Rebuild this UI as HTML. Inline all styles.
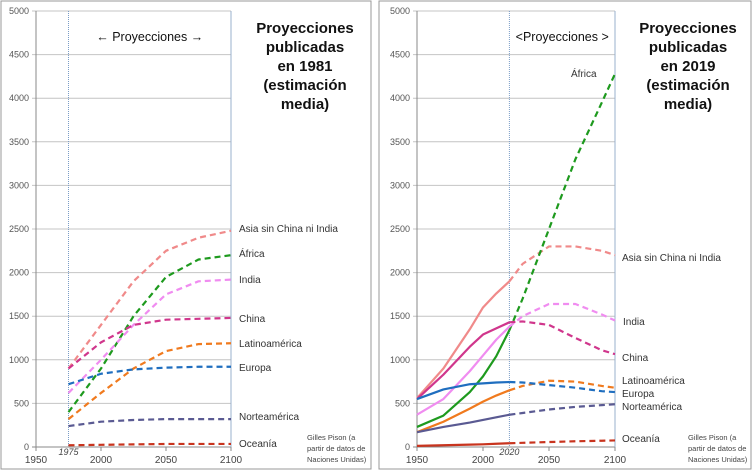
<!DOCTYPE html>
<html><head><meta charset="utf-8"><style>
html,body{margin:0;padding:0;background:#fff;}
svg{display:block;font-family:"Liberation Sans",sans-serif;}
</style></head><body>
<svg id="chart" width="754" height="471" viewBox="0 0 754 471"></svg>
<script>
// ---- data ----
const yTicks = [0,500,1000,1500,2000,2500,3000,3500,4000,4500,5000];
const xTicks = [1950,2000,2050,2100];
const regions = ["Asia sin China ni India","África","India","China","Latinoamérica","Europa","Norteamérica","Oceanía"];
const colors = ["#f08a8a","#1e9a1e","#f08cf0","#d0368c","#f07a1e","#1f6ebf","#5a5a92","#c8341e"];
// 1981 projections (left)
const years1981 = [1975,2000,2025,2050,2075,2100];
const asia1981 = [900,1400,1900,2250,2400,2480];
const africa1981 = [400,900,1500,1950,2150,2200];
const india1981 = [620,1000,1400,1750,1900,1920];
const china1981 = [900,1200,1400,1460,1470,1480];
const latam1981 = [320,620,900,1100,1180,1190];
const europe1981 = [720,840,890,910,920,920];
const namerica1981 = [240,290,310,320,320,320];
const oceania1981 = [20,25,30,35,35,35];
// 2019 projections (right)
const years2019 = [1950,1970,1990,2000,2010,2020,2030,2050,2070,2090,2100];
const asia2019 = [560,900,1350,1600,1760,1900,2100,2300,2300,2250,2200];
const africa2019 = [230,360,630,810,1040,1340,1700,2500,3300,3950,4280];
const india2019 = [370,550,870,1050,1230,1380,1500,1640,1640,1520,1450];
const china2019 = [550,830,1150,1290,1360,1430,1440,1400,1250,1110,1065];
const latam2019 = [170,290,440,520,590,650,700,760,750,700,680];
const europe2019 = [550,660,720,730,740,745,740,710,680,640,630];
const namerica2019 = [170,230,280,310,340,370,390,430,460,480,490];
const oceania2019 = [13,20,27,31,37,43,48,57,66,72,75];
const splitYear2019 = 2020;

const NS="http://www.w3.org/2000/svg";
const svg=document.getElementById('chart');
function el(tag,attrs,parent){const e=document.createElementNS(NS,tag);for(const k in attrs)e.setAttribute(k,attrs[k]);(parent||svg).appendChild(e);return e;}

function panel(px,x0,x1,startYear,series,years,split,labelPos,titleYear,titleX,projX0,projText,idx){
  const g=el('g',{});
  
  
  const frame=el('rect',{x:px,y:1,width:idx?372:370,height:468,fill:'none',stroke:'#999','stroke-width':1},g);
  
  
  const Y0=447,Y1=11;
  const xs=y=>x0+(y-1950)*(x1-x0)/150;
  const ys=v=>Y0-v*(Y0-Y1)/5000;
  yTicks.forEach(t=>{
    const l=el('line',{x1:x0-4,x2:x1,y1:ys(t),y2:ys(t),stroke:t===0?'#888':'#c4c4c4','stroke-width':1},g);
    
    
    const tx=el('text',{x:x0-7,y:ys(t)+3,'text-anchor':'end','font-size':9,fill:'#555'},g);
    tx.textContent=t;
    
    
  });
  el('line',{x1:x0,x2:x0,y1:Y1,y2:Y0,stroke:'#888'},g);
  const rl=el('line',{x1:x1,x2:x1,y1:Y1,y2:Y0,stroke:'#9ab0cc'},g);
  
  
  xTicks.forEach(t=>{
    const tx=el('text',{x:xs(t),y:463,'text-anchor':'middle','font-size':10,fill:'#444'},g);
    tx.textContent=t;
    
    
    el('line',{x1:xs(t),x2:xs(t),y1:Y0,y2:Y0+4,stroke:'#888'},g);
  });
  // projection marker line
  const vl=el('line',{x1:xs(projX0),x2:xs(projX0),y1:Y1,y2:Y0,stroke:'#7a9cc6','stroke-dasharray':'1,1'},g);
  
  
  const pl=el('text',{x:xs(projX0),y:455,'text-anchor':'middle','font-size':9,'font-style':'italic',fill:'#444'},g);
  pl.textContent=projX0;
  
  
  const pt=el('text',{x:(xs(projX0)+x1)/2,y:41,'text-anchor':'middle','font-size':12.5,fill:'#111'},g);
  pt.textContent=projText;
  
  
  // series
  series.forEach((vals,i)=>{
    const pts=years.map((y,j)=>[xs(y),ys(vals[j])]);
    if(split){
      const k=years.indexOf(split);
      const a=el('polyline',{points:pts.slice(0,k+1).map(p=>p.join(',')).join(' '),fill:'none',stroke:colors[i],'stroke-width':2.2,'stroke-linejoin':'round'},g);
      
      
      const b=el('polyline',{points:pts.slice(k).map(p=>p.join(',')).join(' '),fill:'none',stroke:colors[i],'stroke-width':2.2,'stroke-dasharray':'6,4','stroke-linejoin':'round'},g);
      
      
    } else {
      const a=el('polyline',{points:pts.map(p=>p.join(',')).join(' '),fill:'none',stroke:colors[i],'stroke-width':2.2,'stroke-dasharray':'6,4','stroke-linejoin':'round'},g);
      
      
    }
    const lp=labelPos[i];
    const t=el('text',{x:lp[0],y:lp[1],'font-size':10,fill:'#333'},g);
    t.textContent=regions[i];
    
    
  });
  // title
  ['Proyecciones','publicadas','en '+titleYear,'(estimación','media)'].forEach((s,i)=>{
    const t=el('text',{x:titleX,y:33+i*19,'text-anchor':'middle','font-size':15,'font-weight':'bold',fill:'#111'},g);
    t.textContent=s;
    
    
  });
  ['Gilles Pison (a','partir de datos de','Naciones Unidas)'].forEach((s,i)=>{
    const t=el('text',{x:x1+(idx?73:76),y:440+i*11,'font-size':7.5,fill:'#444'},g);
    t.textContent=s;
    
    
  });
}
panel(1,36,231,1975,[asia1981,africa1981,india1981,china1981,latam1981,europe1981,namerica1981,oceania1981],years1981,null,
  [[239,232],[239,257],[239,283],[239,322],[239,347],[239,371],[239,420],[239,447]],'1981',305,1975,'\u2190       Proyecciones       \u2192',0);
panel(379,417,615,1950,[asia2019,africa2019,india2019,china2019,latam2019,europe2019,namerica2019,oceania2019],years2019,splitYear2019,
  [[622,261],[571,77],[623,325],[622,361],[622,384],[622,397],[622,410],[622,442]],'2019',688,splitYear2019,'<Proyecciones >',1);
</script>
</body></html>
